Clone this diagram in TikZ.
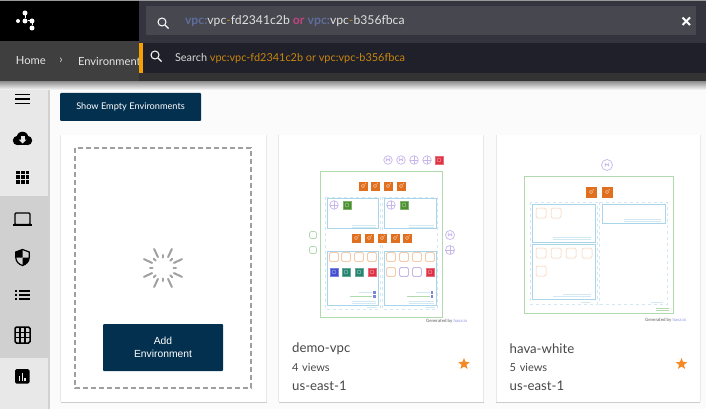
\documentclass[tikz,border=0pt]{standalone}
\usepackage{fontspec}
\setmainfont{Lato}
\newfontfamily\btnfont{Liberation Sans}
\usetikzlibrary{positioning,shapes.geometric}
\definecolor{navy}{HTML}{04304F}
\definecolor{topblack}{HTML}{000000}
\definecolor{searchpanel}{HTML}{33343D}
\definecolor{searchbox}{HTML}{47484F}
\definecolor{crumbbar}{HTML}{3F3F3F}
\definecolor{droppanel}{HTML}{1F2029}
\definecolor{dropedge}{HTML}{333333}
\definecolor{hintorange}{HTML}{C9860F}
\definecolor{barorange}{HTML}{F5A000}
\definecolor{vpcblue}{HTML}{5F6C9C}
\definecolor{orpink}{HTML}{C2447E}
\definecolor{sidegrey}{HTML}{E8E8E8}
\definecolor{sidedark}{HTML}{D0D0D0}
\definecolor{pagegrey}{HTML}{FBFBFB}
\definecolor{spingrey}{HTML}{A0A0A0}
\definecolor{cardtextgrey}{HTML}{484848}
\definecolor{starorange}{HTML}{F58A24}
\definecolor{frameblue}{HTML}{A9D5EA}
\definecolor{dashblue}{HTML}{D2E9F4}
\definecolor{framegreen}{HTML}{B0D9AE}
\definecolor{iconorange}{HTML}{E0701F}
\definecolor{softorange}{HTML}{F6C9A8}
\definecolor{palepurple}{HTML}{C5B6EC}
\definecolor{iconred}{HTML}{DF3044}
\definecolor{icongreen}{HTML}{4A8F2F}
\definecolor{iconteal}{HTML}{24846F}
\definecolor{iconblue}{HTML}{3F4FD0}
\tikzset{
    flatbox/.style={inner sep=0pt,outer sep=0pt},
    navybtn/.style={fill=navy,rounded corners=1pt,text=white,inner sep=0pt,align=center},
    sideglyph/.style={black,line width=1.5pt},
    spinray/.style={spingrey,line width=2pt,line cap=round},
    cardtext/.style={inner sep=0pt,text width=130pt,align=left,text=cardtextgrey},
    cardstar/.style={star,star points=5,star point ratio=2.3,fill=starorange,inner sep=0pt,minimum size=12pt},
    orangeicon/.style={fill=iconorange,minimum size=#1,inner sep=0pt,path picture={
        \draw[white!70!iconorange,line width=0.4pt] (path picture bounding box.center) circle (1.6pt)
        (path picture bounding box.center) ++(1.5pt,1.5pt) -- ++(1.2pt,1.2pt);}},
    softsquare/.style={draw=softorange,fill=white,rounded corners=1.5pt,line width=#1,minimum size=9pt,inner sep=0pt},
    lavsquare/.style={draw=palepurple,fill=white,rounded corners=1.5pt,line width=0.8pt,minimum size=9pt,inner sep=0pt},
    filledicon/.style={fill=#1,draw=#1!70!white,line width=0.3pt,minimum size=8.5pt,inner sep=0pt,path picture={
        \draw[white!60!#1,line width=0.4pt] (path picture bounding box.center) circle (2pt);}},
    crosscircle/.style={draw=palepurple,line width=0.7pt,circle,minimum size=#1,inner sep=0pt,path picture={
        \draw[palepurple,line width=0.5pt] (path picture bounding box.north) -- (path picture bounding box.south)
        (path picture bounding box.west) -- (path picture bounding box.east);}},
    archcircle/.style={draw=palepurple,line width=0.7pt,circle,minimum size=#1,inner sep=0pt,path picture={
        \draw[palepurple,line width=0.7pt] ([shift={(-1.7pt,2.5pt)}]path picture bounding box.center) -- ++(0,-3.4pt) arc (180:0:1.7pt) -- ++(0,3.4pt);}},
    subnetbox/.style={draw=frameblue,line width=0.5pt},
    vpcbox/.style={draw=dashblue,dashed,line width=0.5pt},
    tinyline/.style={line width=0.5pt,dashblue},
    genby/.style={inner sep=0pt,font=\fontsize{4.4}{5}\selectfont,text=black!65},
}
\begin{document}
\begin{tikzpicture}[x=1pt,y=-1pt,node distance = 18pt]
    \useasboundingbox (0,0) rectangle (706,409);
    \fill[pagegrey] (0,0) rectangle (706,409);

    % sidebar
    \fill[sidegrey] (0,81) rectangle (48,409);
    \fill[sidedark] (0,196) rectangle (48,358);
    \fill[black!18] (48,81) rectangle (49.5,409);

    % top bars
    \shade[top color=black!45,bottom color=pagegrey] (0,81) rectangle (706,90);
    \fill[black!40] (0,0) rectangle (706,1);
    \fill[topblack] (0,1) rectangle (139,41);
    \fill[crumbbar] (0,41) rectangle (139,81);
    \fill[dropedge] (139,73) rectangle (706,81);
    \node (home) [flatbox,anchor=west,text=white!90!black,font=\fontsize{11.2}{13}\selectfont] at (16,61) {Home};
    \node (crumbsep) [flatbox,text=white!85!black,font=\fontsize{12}{13}\selectfont] at (61,60.5) {›};
    \node (envcrumb) [flatbox,anchor=west,text=white!90!black,font=\fontsize{11.2}{13}\selectfont] at (78,61) {Environments};
    \fill[searchpanel] (139,1) rectangle (706,43);
    \fill[searchbox] (146,6) rectangle (696,35);
    \fill[droppanel] (139,43) rectangle (706,73);
    \fill[barorange] (139,43) rectangle (143,73);

    % logo
    \node (logoA) [circle,fill=white,flatbox,minimum size=5pt] at (25,13) {};
    \node (logoB) [circle,fill=white,flatbox,minimum size=5pt] at (25,21) {};
    \node (logoC) [circle,fill=white,flatbox,minimum size=4pt] at (18,21) {};
    \node (logoD) [circle,fill=white,flatbox,minimum size=5pt] at (32,21) {};
    \node (logoE) [circle,fill=white,flatbox,minimum size=5pt] at (32,28) {};
    \draw[white,line width=1pt] (logoA) -- (logoB) -- (logoD) -- (logoE);

    % search
    \draw[white,line width=1pt] (162,22) circle (4pt);
    \draw[white,line width=1.3pt] (165,25) -- (168.5,28.5);
    \draw[white,line width=1pt] (155,55) circle (4pt);
    \draw[white,line width=1.3pt] (158,58) -- (161.5,61.5);
    \node (query) [flatbox,anchor=west,text=white!88!black,font=\fontsize{12.2}{14}\selectfont] at (185,21)
        {\textcolor{vpcblue}{\textbf{vpc:}}vpc\textcolor{hintorange}{-}fd2341c2b \textcolor{orpink}{\textbf{or}} \textcolor{vpcblue}{\textbf{vpc:}}vpc\textcolor{hintorange}{-}b356fbca};
    \draw[white,line width=2pt] (682.5,17.5) -- (690,25);
    \draw[white,line width=2pt] (690,17.5) -- (682.5,25);
    \node (hint) [flatbox,anchor=west,text=white!85!black,font=\fontsize{10.9}{12}\selectfont] at (175,58.5)
        {Search \textcolor{hintorange}{vpc:vpc-fd2341c2b or vpc:vpc-b356fbca}};

    % side icons
    \draw[sideglyph,line width=1.2pt] (15,94.5) -- (29.5,94.5);
    \draw[sideglyph,line width=1.2pt] (15,99) -- (29.5,99);
    \draw[sideglyph,line width=1.2pt] (15,103.5) -- (29.5,103.5);
    \fill[black] (17.5,140.5) circle (4.7pt);
    \fill[black] (22.5,137.5) circle (5.8pt);
    \fill[black] (27.5,140.5) circle (4.7pt);
    \fill[black] (17.5,141) rectangle (27.5,145.2);
    \fill[white!90!black] (20.5,135.5) rectangle (24.5,139.5);
    \fill[white!90!black] (18.5,139.5) -- (26.5,139.5) -- (22.5,143.5) -- cycle;
    \fill[black] (16,170.5) rectangle (19.8,174.3);
    \fill[black] (20.8,170.5) rectangle (24.6,174.3);
    \fill[black] (25.6,170.5) rectangle (29.4,174.3);
    \fill[black] (16,175.3) rectangle (19.8,179.1);
    \fill[black] (20.8,175.3) rectangle (24.6,179.1);
    \fill[black] (25.6,175.3) rectangle (29.4,179.1);
    \fill[black] (16,180.1) rectangle (19.8,183.9);
    \fill[black] (20.8,180.1) rectangle (24.6,183.9);
    \fill[black] (25.6,180.1) rectangle (29.4,183.9);
    \draw[black,line width=1.1pt,rounded corners=1pt] (15,224.5) rectangle (30,213);
    \draw[black,line width=1.4pt] (13,224.8) -- (32,224.8);
    \draw[black,line width=1.2pt] (22.5,249.5) -- (15.8,252) -- (15.8,257.5) .. controls (15.8,261.5) and (19,264.5) .. (22.5,265.5) .. controls (26,264.5) and (29.2,261.5) .. (29.2,257.5) -- (29.2,252) -- cycle;
    \fill[black] (22.5,249.5) -- (15.8,252) -- (15.8,257.5) -- (22.5,257.5) -- cycle;
    \fill[black] (22.5,257.5) -- (29.2,257.5) .. controls (29.2,261.5) and (26,264.5) .. (22.5,265.5) -- cycle;
    \draw[black,line width=1.1pt] (19,291) -- (30,291);
    \draw[black,line width=1.1pt] (19,295) -- (30,295);
    \draw[black,line width=1.1pt] (19,299) -- (30,299);
    \draw[black,line width=1.1pt] (15,291) -- (17,291);
    \draw[black,line width=1.1pt] (15,295) -- (17,295);
    \draw[black,line width=1.1pt] (15,299) -- (17,299);
    \draw[black,line width=1.5pt,rounded corners=1.5pt] (15,327) rectangle (30,343);
    \draw[black,line width=1.2pt] (15,332.3) -- (30,332.3);
    \draw[black,line width=1.2pt] (15,337.6) -- (30,337.6);
    \draw[black,line width=1.2pt] (20,327) -- (20,343);
    \draw[black,line width=1.2pt] (25,327) -- (25,343);
    \fill[black,rounded corners=1.5pt] (15,369) rectangle (29.5,383.5);
    \fill[sidegrey] (18.6,376) rectangle (20.1,381);
    \fill[sidegrey] (21.5,372.5) rectangle (23,381);
    \fill[sidegrey] (24.4,377.5) rectangle (25.9,381);

    % button above the cards
    \node (showEmpty) [navybtn,minimum width=141pt,minimum height=28pt,font=\fontsize{9.2}{11}\selectfont] at (130.5,107) {Show Empty Environments};

    % cards
    \fill[black!9] (60,134.5) rectangle (267,402);
    \fill[black!9] (278,134.5) rectangle (484,402);
    \fill[black!9] (495.5,134.5) rectangle (700.5,402);
    \fill[black!20] (60.5,402) rectangle (266.5,403);
    \fill[black!20] (278.5,402) rectangle (483.5,403);
    \fill[black!20] (496,402) rectangle (700,403);
    \fill[white] (61,135) rectangle (266,402);
    \fill[white] (279,135) rectangle (483,402);
    \fill[white] (497,135) rectangle (699.5,402);

    % card one
    \draw[spingrey,line width=1.2pt,dash pattern=on 5pt off 3pt] (75,148) rectangle (251,388);
    \coordinate (spinner) at (163,268);
    \draw[spinray] (spinner) ++(25:12) -- ++(25:9);
    \draw[spinray] (spinner) ++(65:12) -- ++(65:9);
    \draw[spinray] (spinner) ++(115:12) -- ++(115:9);
    \draw[spinray] (spinner) ++(155:12) -- ++(155:9);
    \draw[spinray] (spinner) ++(205:12) -- ++(205:9);
    \draw[spinray] (spinner) ++(245:12) -- ++(245:9);
    \draw[spinray] (spinner) ++(295:12) -- ++(295:9);
    \draw[spinray] (spinner) ++(335:12) -- ++(335:9);
    \draw[spinray] (spinner) ++(0:10.5) -- ++(0:2.5);
    \draw[spinray] (spinner) ++(45:10.5) -- ++(45:2.5);
    \draw[spinray] (spinner) ++(90:10.5) -- ++(90:2.5);
    \draw[spinray] (spinner) ++(135:10.5) -- ++(135:2.5);
    \draw[spinray] (spinner) ++(180:10.5) -- ++(180:2.5);
    \draw[spinray] (spinner) ++(225:10.5) -- ++(225:2.5);
    \draw[spinray] (spinner) ++(270:10.5) -- ++(270:2.5);
    \draw[spinray] (spinner) ++(315:10.5) -- ++(315:2.5);
    \node (addEnv) [navybtn,minimum width=120pt,minimum height=47pt,font=\btnfont\fontsize{10.3}{12.5}\selectfont] at (163,347.5) {Add\\Environment};

    % card two diagram
    \draw[framegreen,line width=0.7pt] (320.5,171) rectangle (442,317);
    \draw[vpcbox] (325,197) rectangle (380,309);
    \draw[vpcbox] (382,197) rectangle (437,309);
    \draw[subnetbox] (327,198.5) rectangle (378,228);
    \draw[subnetbox] (384,198.5) rectangle (436,228);
    \draw[subnetbox] (327,251) rectangle (378,305);
    \draw[subnetbox] (384,251) rectangle (436,305);

    \node (topRingA) [archcircle=8.5pt] at (388,160) {};
    \node (topRingB) [archcircle=8.5pt] at (401,160) {};
    \node (topRingC) [crosscircle=8.5pt] at (414,160) {};
    \node (topRingD) [crosscircle=8.5pt] at (427,160) {};
    \node (topRed) [filledicon=iconred] at (439,160) {};

    \node (elbTopA) [orangeicon=9pt] at (363,186) {};
    \node (elbTopB) [orangeicon=9pt] at (375,186) {};
    \node (elbTopC) [orangeicon=9pt] at (388,186) {};
    \node (elbTopD) [orangeicon=9pt] at (401,186) {};

    \node (leftRing) [crosscircle=8.5pt] at (334,205) {};
    \node (leftGreen) [filledicon=icongreen] at (347,205) {};
    \node (rightRing) [crosscircle=8.5pt] at (391,205) {};
    \node (rightGreen) [filledicon=icongreen] at (404,205) {};

    \node (elbMidA) [orangeicon=9pt] at (356,238) {};
    \node (elbMidB) [orangeicon=9pt] at (369,238) {};
    \node (elbMidC) [orangeicon=9pt] at (382,238) {};
    \node (elbMidD) [orangeicon=9pt] at (395,238) {};
    \node (elbMidE) [orangeicon=9pt] at (407,238) {};

    \node (bucketA) [draw=framegreen,line width=0.7pt,flatbox,minimum width=7pt,minimum height=7pt,rounded corners=1.5pt] at (313,235) {};
    \node (bucketB) [draw=framegreen,line width=0.7pt,flatbox,minimum width=7pt,minimum height=7pt,rounded corners=1.5pt] at (313,250) {};
    \node (sideRingA) [archcircle=9pt] at (450,235) {};
    \node (sideRingB) [crosscircle=9pt] at (450,250) {};

    \node (leftEcA) [softsquare=0.8pt] at (334,257) {};
    \node (leftEcB) [softsquare=0.8pt] at (346,257) {};
    \node (leftEcC) [softsquare=0.8pt] at (359,257) {};
    \node (leftEcD) [softsquare=0.8pt] at (372,257) {};
    \node (rightEcA) [softsquare=0.8pt] at (391,257) {};
    \node (rightEcB) [softsquare=0.8pt] at (404,257) {};
    \node (rightEcC) [softsquare=0.8pt] at (417,257) {};
    \node (rightEcD) [softsquare=0.8pt] at (430,257) {};
    \node (leftBlue) [filledicon=iconblue] at (334,272) {};
    \node (leftTealA) [filledicon=iconteal] at (346,272) {};
    \node (leftTealB) [filledicon=iconteal] at (359,272) {};
    \node (leftRed) [filledicon=iconred] at (372,272) {};
    \node (rightSoft) [softsquare=0.8pt] at (391,272) {};
    \node (rightLavA) [lavsquare] at (404,272) {};
    \node (rightLavB) [lavsquare] at (417,272) {};
    \node (rightRed) [filledicon=iconred] at (430,272) {};

    \draw[tinyline] (352,225) -- (376,225);
    \draw[tinyline] (352,227) -- (376,227);
    \draw[tinyline] (409,225) -- (434,225);
    \draw[tinyline] (409,227) -- (434,227);
    \draw[tinyline] (359,292) -- (372,292);
    \draw[tinyline,framegreen] (350,296) -- (372,296);
    \draw[tinyline] (352,301) -- (376,301);
    \draw[tinyline] (352,303) -- (376,303);
    \draw[tinyline] (367,307.5) -- (377,307.5);
    \draw[tinyline] (416,292) -- (430,292);
    \draw[tinyline,framegreen] (407,296) -- (430,296);
    \draw[tinyline] (409,301) -- (434,301);
    \draw[tinyline] (409,303) -- (434,303);
    \draw[tinyline] (425,307.5) -- (435,307.5);
    \fill[iconblue!70!white] (373,291) rectangle (375.5,293.5);
    \fill[iconblue!70!white] (373,295) rectangle (375.5,297.5);
    \fill[iconblue!70!white] (430.5,291) rectangle (433,293.5);
    \fill[iconblue!70!white] (430.5,295) rectangle (433,297.5);
    \node (genTwo) [genby,anchor=west] at (426,321) {Generated by \textcolor{iconblue!60!white}{hava.io}};

    % card three diagram
    \draw[framegreen,line width=0.7pt] (524.5,176) rectangle (673,313);
    \draw[vpcbox] (530,202) rectangle (597,304);
    \draw[vpcbox] (599.5,202) rectangle (667,304);
    \draw[subnetbox] (532,204) rectangle (595,242);
    \draw[subnetbox] (532,244) rectangle (595,299);
    \draw[subnetbox] (602,204) rectangle (665,223);

    \node (whiteRing) [archcircle=11pt] at (607,165) {};
    \node (whiteElbA) [orangeicon=11pt] at (591,192) {};
    \node (whiteElbB) [orangeicon=11pt] at (607,192) {};

    \node (whiteEcA) [softsquare=0.5pt,minimum size=10pt] at (541,213) {};
    \node (whiteEcB) [softsquare=0.5pt,minimum size=10pt] at (556,213) {};
    \node (whiteEcC) [softsquare=0.5pt,minimum size=10pt] at (541,253) {};
    \node (whiteEcD) [softsquare=0.5pt,minimum size=10pt] at (556,253) {};
    \node (whiteEcE) [softsquare=0.5pt,minimum size=10pt] at (571,253) {};
    \node (whiteEcF) [softsquare=0.5pt,minimum size=10pt] at (587,253) {};
    \node (whiteEcG) [softsquare=0.5pt,minimum size=10pt] at (541,271) {};

    \draw[tinyline] (553,237) -- (591,237);
    \draw[tinyline] (553,239) -- (591,239);
    \draw[tinyline] (563,294) -- (591,294);
    \draw[tinyline] (553,296) -- (591,296);
    \draw[tinyline] (624,219) -- (661,219);
    \draw[tinyline] (624,221) -- (661,221);
    \draw[tinyline] (581,302) -- (590,302);
    \draw[tinyline] (651,302) -- (663,302);
    \draw[framegreen,line width=0.8pt] (656,308) -- (669,308);
    \draw[framegreen,line width=0.8pt] (656,310.5) -- (669,310.5);
    \node (genThree) [genby,anchor=west] at (645,320.5) {Generated by \textcolor{iconblue!60!white}{hava.io}};

    % card captions
    \node (demoName) [cardtext,font=\fontsize{13.2}{15}\selectfont,anchor=west] at (292,349) {demo-vpc};
    \node (demoViews) [cardtext,font=\fontsize{11}{13}\selectfont,below of=demoName,yshift=-1pt] {4 views};
    \node (demoRegion) [cardtext,font=\fontsize{13.2}{15}\selectfont,below of=demoViews] {us-east-1};
    \node (demoStar) [cardstar] at (464,364) {};
    \node (whiteName) [cardtext,font=\fontsize{13.2}{15}\selectfont,anchor=west] at (509.5,349) {hava-white};
    \node (whiteViews) [cardtext,font=\fontsize{11}{13}\selectfont,below of=whiteName,yshift=-1pt] {5 views};
    \node (whiteRegion) [cardtext,font=\fontsize{13.2}{15}\selectfont,below of=whiteViews] {us-east-1};
    \node (whiteStar) [cardstar] at (681.5,364) {};
\end{tikzpicture}
\end{document}
